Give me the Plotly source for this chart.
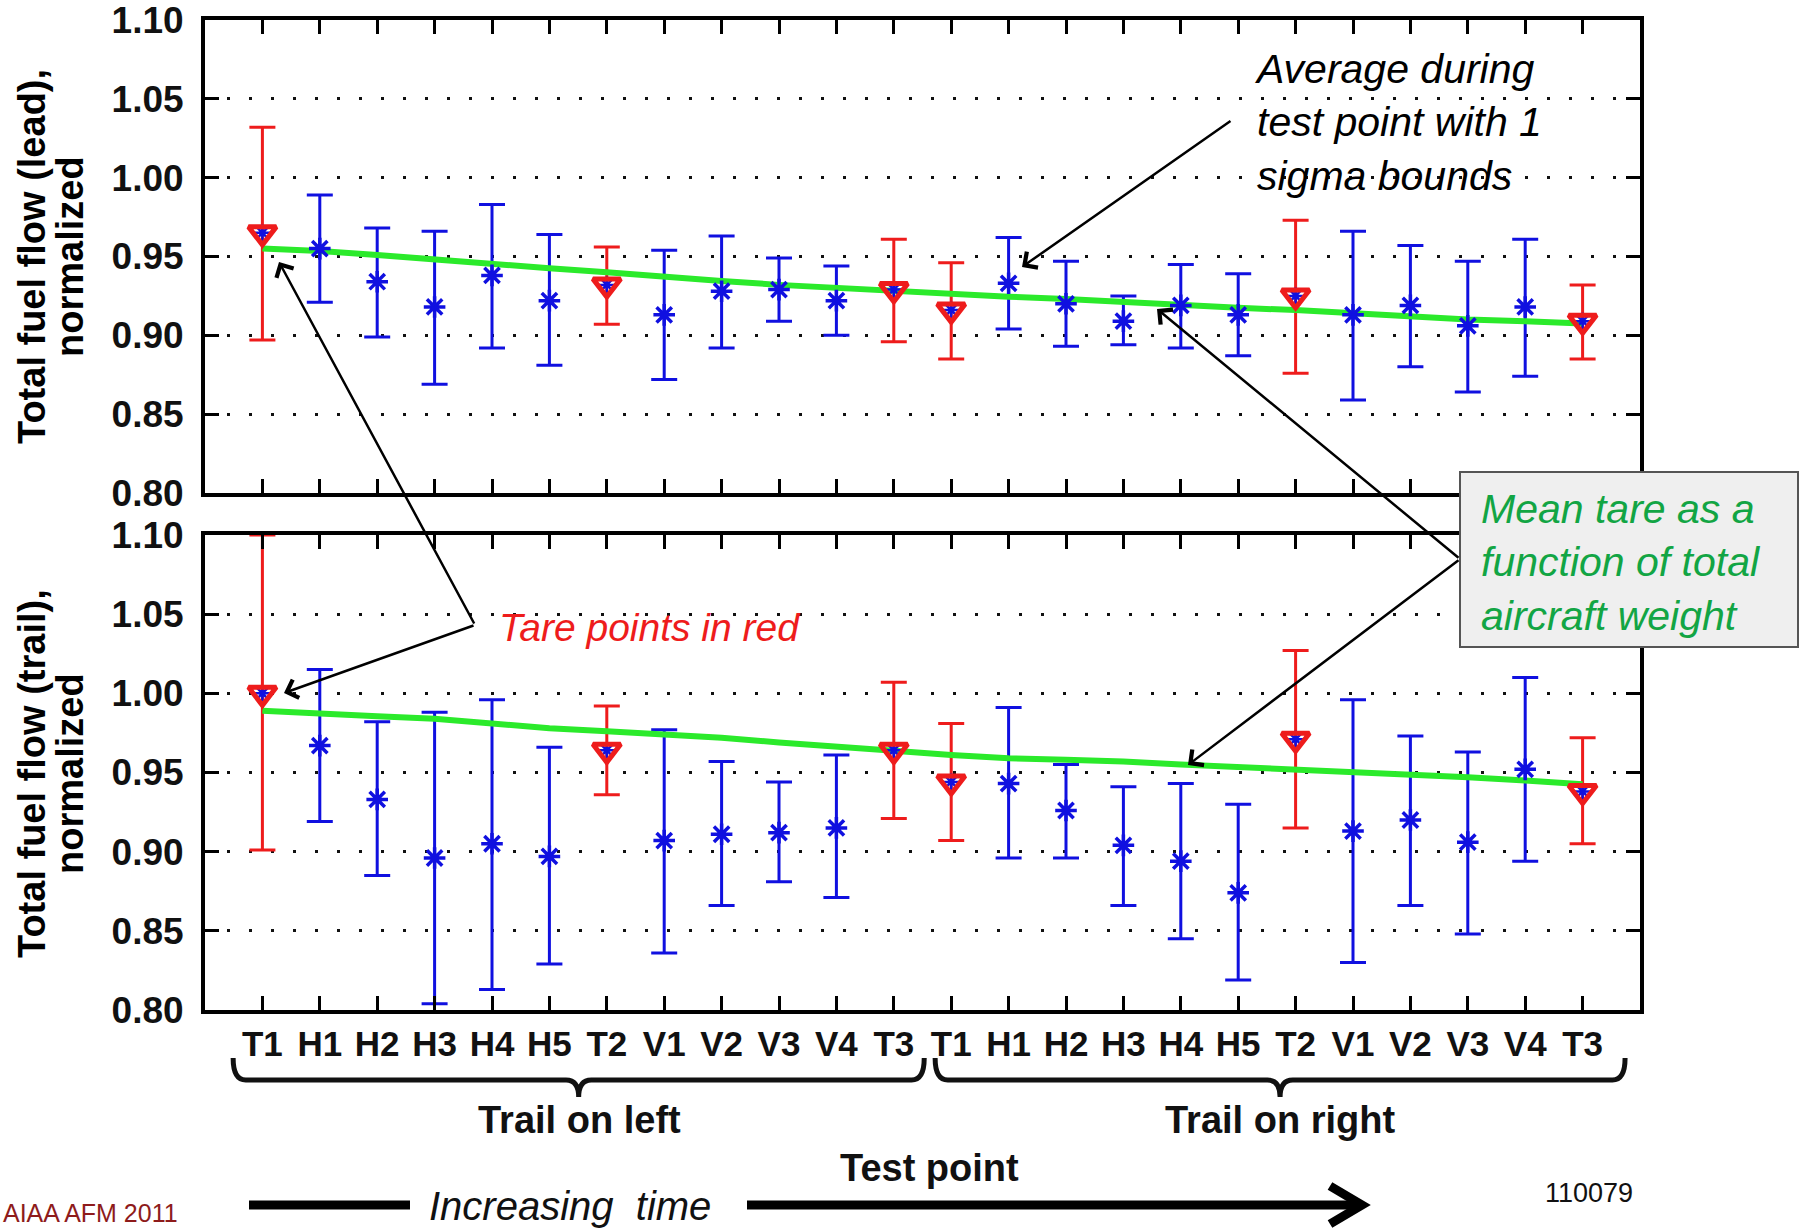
import plotly.graph_objects as go

# ---------------- data ----------------
tick_labels = ["T1", "H1", "H2", "H3", "H4", "H5", "T2", "V1", "V2", "V3", "V4", "T3",
               "T1", "H1", "H2", "H3", "H4", "H5", "T2", "V1", "V2", "V3", "V4", "T3"]
positions = list(range(1, 25))

lead_mean = [0.965, 0.955, 0.934, 0.918, 0.938, 0.922, 0.932, 0.913, 0.928, 0.929, 0.922, 0.929,
             0.916, 0.933, 0.920, 0.909, 0.919, 0.913, 0.925, 0.913, 0.919, 0.906, 0.918, 0.909]
lead_upper = [1.032, 0.989, 0.968, 0.966, 0.983, 0.964, 0.956, 0.954, 0.963, 0.949, 0.944, 0.961,
              0.946, 0.962, 0.947, 0.925, 0.945, 0.939, 0.973, 0.966, 0.957, 0.947, 0.961, 0.932]
lead_lower = [0.897, 0.921, 0.899, 0.869, 0.892, 0.881, 0.907, 0.872, 0.892, 0.909, 0.900, 0.896,
              0.885, 0.904, 0.893, 0.894, 0.892, 0.887, 0.876, 0.859, 0.880, 0.864, 0.874, 0.885]
lead_fit = [0.955, 0.9535, 0.951, 0.948, 0.945, 0.9425, 0.940, 0.937, 0.9345, 0.932, 0.930, 0.9276,
            0.9265, 0.9245, 0.923, 0.921, 0.919, 0.9175, 0.916, 0.914, 0.912, 0.910, 0.909, 0.9075]

trail_mean = [1.000, 0.967, 0.933, 0.896, 0.905, 0.897, 0.964, 0.907, 0.911, 0.912, 0.915, 0.964,
              0.944, 0.943, 0.926, 0.904, 0.894, 0.874, 0.971, 0.913, 0.920, 0.906, 0.952, 0.938]
trail_upper = [1.100, 1.015, 0.982, 0.988, 0.996, 0.966, 0.992, 0.977, 0.957, 0.944, 0.961, 1.007,
               0.981, 0.991, 0.955, 0.941, 0.943, 0.930, 1.027, 0.996, 0.973, 0.963, 1.010, 0.972]
trail_lower = [0.901, 0.919, 0.885, 0.804, 0.813, 0.829, 0.936, 0.836, 0.866, 0.881, 0.871, 0.921,
               0.907, 0.896, 0.896, 0.866, 0.845, 0.819, 0.915, 0.830, 0.866, 0.848, 0.894, 0.905]
trail_fit = [0.989, 0.987, 0.9855, 0.984, 0.981, 0.978, 0.976, 0.974, 0.972, 0.969, 0.966, 0.9637,
             0.961, 0.959, 0.958, 0.957, 0.955, 0.9535, 0.9515, 0.950, 0.9485, 0.947, 0.945, 0.9426]

y_ticks = [0.80, 0.85, 0.90, 0.95, 1.00, 1.05, 1.10]

# ---------------- styling ----------------
W, H = 1805, 1229
BLUE = "#1010e0"
RED = "#ee1c1c"
GREEN = "#2bea2b"
BOXGREEN = "#12a544"
FONT = "Liberation Sans, Arial, Helvetica, sans-serif"


def px(x):
    return x / W


def py(y):
    return 1 - y / H


X_DOM = [px(205), px(1640)]
TOP_DOM = [py(493), py(20)]
BOT_DOM = [py(1010), py(535)]

fig = go.Figure()

panels = [("x", "y", lead_mean, lead_upper, lead_lower, lead_fit),
          ("x2", "y2", trail_mean, trail_upper, trail_lower, trail_fit)]

tare_idx = [i for i, l in enumerate(tick_labels) if l.startswith("T")]
test_idx = [i for i, l in enumerate(tick_labels) if not l.startswith("T")]

for xa, ya, mean, up, lo, fit in panels:
    for idx, col in ((test_idx, BLUE), (tare_idx, RED)):
        fig.add_trace(go.Scatter(
            x=[positions[i] for i in idx], y=[mean[i] for i in idx],
            mode="markers", marker=dict(size=1, color="rgba(0,0,0,0)"),
            error_y=dict(type="data", symmetric=False,
                         array=[up[i] - mean[i] for i in idx],
                         arrayminus=[mean[i] - lo[i] for i in idx],
                         color=col, thickness=3, width=13),
            xaxis=xa, yaxis=ya, showlegend=False, hoverinfo="skip"))
    fig.add_trace(go.Scatter(
        x=positions, y=fit, mode="lines", line=dict(color=GREEN, width=6),
        xaxis=xa, yaxis=ya, showlegend=False, hoverinfo="skip"))
    fig.add_trace(go.Scatter(
        x=[positions[i] for i in test_idx], y=[mean[i] for i in test_idx],
        mode="markers",
        marker=dict(symbol="asterisk-open", size=18, color=BLUE, line=dict(color=BLUE, width=3.5)),
        xaxis=xa, yaxis=ya, showlegend=False, hoverinfo="skip"))
    fig.add_trace(go.Scatter(
        x=[positions[i] for i in tare_idx], y=[mean[i] for i in tare_idx],
        mode="markers",
        marker=dict(symbol="asterisk-open", size=14, color=BLUE, line=dict(color=BLUE, width=2.5)),
        xaxis=xa, yaxis=ya, showlegend=False, hoverinfo="skip"))
    fig.add_trace(go.Scatter(
        x=[positions[i] for i in tare_idx], y=[mean[i] for i in tare_idx],
        mode="markers",
        marker=dict(symbol="triangle-down-open", size=24, color=RED, line=dict(color=RED, width=5)),
        xaxis=xa, yaxis=ya, showlegend=False, hoverinfo="skip"))

xcommon = dict(range=[0, 25], tickvals=positions, ticks="inside", ticklen=14, tickwidth=3,
               tickcolor="black", showline=True, linewidth=4, linecolor="black",
               mirror="allticks", showgrid=False, zeroline=False, fixedrange=True,
               automargin=False)
ycommon = dict(range=[0.80, 1.10], tickvals=y_ticks, tickformat=".2f", ticks="inside",
               ticklen=14, tickwidth=3, tickcolor="black", showline=True, linewidth=4,
               linecolor="black", mirror="allticks", showgrid=True, gridcolor="#111111",
               gridwidth=3, griddash="3px,19px", zeroline=False, ticklabelstandoff=10,
               automargin=False, fixedrange=True, ticklabeloverflow="allow",
               tickfont=dict(family=FONT, size=37, color="#111111", weight="bold"))

fig.update_layout(
    template="none",
    width=W, height=H, margin=dict(l=0, r=0, t=0, b=0, pad=0, autoexpand=False),
    paper_bgcolor="white", plot_bgcolor="white", showlegend=False,
    xaxis=dict(domain=X_DOM, anchor="y", showticklabels=False, **xcommon),
    yaxis=dict(domain=TOP_DOM, anchor="x", **ycommon),
    xaxis2=dict(domain=X_DOM, anchor="y2", ticktext=tick_labels, showticklabels=True,
                ticklabelstandoff=0, ticklabeloverflow="allow",
                tickfont=dict(family=FONT, size=35, color="#111111", weight="bold"), **xcommon),
    yaxis2=dict(domain=BOT_DOM, anchor="x2", **ycommon),
)

ann = []


def text(t, x, y, size, xanchor="center", yanchor="middle", color="black", bold=False,
         italic=False, angle=0, align="center", family=FONT):
    ann.append(dict(text=t, x=px(x), y=py(y), xref="paper", yref="paper", showarrow=False,
                    xanchor=xanchor, yanchor=yanchor, textangle=angle, align=align,
                    font=dict(family=family, size=size, color=color,
                              weight="bold" if bold else "normal",
                              style="italic" if italic else "normal")))


def arrow(tail, head):
    ann.append(dict(text="", x=px(head[0]), y=py(head[1]), xref="paper", yref="paper",
                    ax=tail[0] - head[0], ay=tail[1] - head[1], axref="pixel", ayref="pixel",
                    showarrow=True, arrowhead=4, arrowsize=1.5, arrowwidth=2.5,
                    arrowcolor="black", standoff=0, startstandoff=0))


# y-axis titles
text("Total fuel flow (lead),", 32, 257, 38, bold=True, angle=-90)
text("normalized", 70, 257, 38, bold=True, angle=-90)
text("Total fuel flow (trail),", 32, 774, 38, bold=True, angle=-90)
text("normalized", 70, 774, 38, bold=True, angle=-90)

# annotations
text("Average during<br>test point with 1<br>sigma bounds", 1252, 122, 41,
     xanchor="left", italic=True, align="left")
text("Tare points in red", 497, 627, 39, xanchor="left", italic=True, color=RED)
text("Mean tare as a<br>function of total<br>aircraft weight", 1479, 562, 41,
     xanchor="left", italic=True, color=BOXGREEN, align="left")

arrow((1232, 120), (1022, 267))
arrow((475, 625), (279, 262))
arrow((475, 625), (284, 693))
arrow((1460, 559), (1157, 309))
arrow((1460, 559), (1188, 765))

# bottom texts
text("Trail on left", 579, 1120, 38, bold=True, color="#111111")
text("Trail on right", 1280, 1120, 38, bold=True, color="#111111")
text("Test point", 929, 1168, 38, bold=True, color="#111111")
text("110079", 1589, 1193, 27, color="#111111")
text("Increasing\u00a0 time", 570, 1206, 40, italic=True, color="#111111")
text("AIAA AFM 2011", 1, 1229, 25, xanchor="left", yanchor="bottom", color="#8e1b1b")

fig.update_layout(annotations=ann)

shapes = []
# mean tare box
shapes.append(dict(type="rect", xref="paper", yref="paper", x0=px(1460), x1=px(1798),
                   y0=py(647), y1=py(472), fillcolor="#efefef",
                   line=dict(color="#555555", width=2), layer="above"))


# braces (x in data units of the bottom axis)
def brace(x0, x1, ytop, ybar, ytip, r=0.22):
    xm = (x0 + x1) / 2
    yt, yb, yp = py(ytop), py(ybar), py(ytip)
    path = (f"M{x0},{yt} Q{x0},{yb} {x0 + r},{yb} L{xm - r},{yb} "
            f"Q{xm},{yb} {xm},{yp} Q{xm},{yb} {xm + r},{yb} L{x1 - r},{yb} "
            f"Q{x1},{yb} {x1},{yt}")
    return dict(type="path", xref="x2", yref="paper", path=path,
                line=dict(color="#111111", width=5))


shapes.append(brace(0.49, 12.53, 1058, 1080, 1097))
shapes.append(brace(12.72, 24.74, 1058, 1080, 1097))

# increasing-time arrow
shapes.append(dict(type="line", xref="paper", yref="paper", x0=px(249), x1=px(410),
                   y0=py(1205), y1=py(1205), line=dict(color="black", width=9)))
shapes.append(dict(type="line", xref="paper", yref="paper", x0=px(747), x1=px(1358),
                   y0=py(1205), y1=py(1205), line=dict(color="black", width=9)))
shapes.append(dict(type="path", xref="paper", yref="paper",
                   path=f"M{px(1330)},{py(1186)} L{px(1362)},{py(1205)} L{px(1330)},{py(1224)}",
                   line=dict(color="black", width=9)))

fig.update_layout(shapes=shapes)

fig.write_html("out.html", config={"displayModeBar": False},
               post_script="document.body.style.margin='0';")
